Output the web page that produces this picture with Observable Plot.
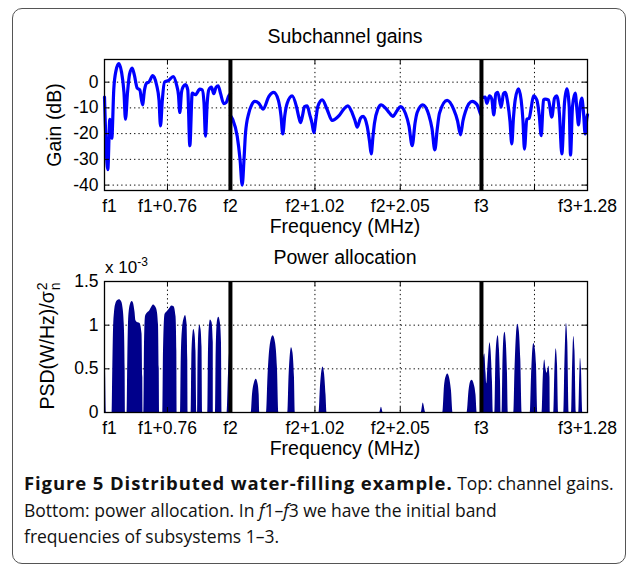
<!DOCTYPE html>
<html><head><meta charset="utf-8">
<script src="https://cdn.jsdelivr.net/npm/d3@7"></script>
<script src="https://cdn.jsdelivr.net/npm/@observablehq/plot@0.6"></script>
<style>
body{margin:0;background:#fff;}
#page{position:relative;width:636px;height:565px;overflow:hidden;font-family:"Liberation Sans",Arial,sans-serif;color:#000;background:#fff;}
.box{position:absolute;left:12px;top:8px;width:614px;height:556px;border:1.5px solid #555;border-radius:10px;box-sizing:border-box;}
.lbl{position:absolute;white-space:nowrap;transform:translate(-50%,-50%);font-size:19.5px;line-height:1;}
.rot{transform:translate(-50%,-50%) rotate(-90deg);}
.panel{position:absolute;left:0;}
.cap{position:absolute;left:24px;top:470px;font-family:"Open Sans",sans-serif;font-size:17.5px;line-height:26.5px;color:#111;white-space:nowrap;}
.cap b{font-size:18.5px;letter-spacing:0.9px;}
.stack{display:inline-flex;flex-direction:column;font-size:14px;line-height:13px;vertical-align:middle;margin-left:1px;}
</style></head>
<body><div id="page">
<div class="box"></div>
<div id="top" class="panel" style="top:49px"></div>
<div id="bottom" class="panel" style="top:271px"></div>
<div class="lbl" style="left:345px;top:37px">Subchannel gains</div>
<div class="lbl" style="left:345px;top:227px">Frequency (MHz)</div>
<div class="lbl rot" style="left:55px;top:125px">Gain (dB)</div>
<div class="lbl" style="left:345px;top:258px">Power allocation</div>
<div class="lbl" style="left:345px;top:449px">Frequency (MHz)</div>
<div class="lbl" style="left:105px;top:266px;transform:translateY(-50%);font-size:17px">x 10<sup style="font-size:12px">-3</sup></div>
<div class="lbl rot" style="left:49px;top:346px">PSD(W/Hz)/σ<span class="stack"><span>2</span><span>n</span></span></div>
<div class="cap"><b>Figure 5 Distributed water-filling example.</b> Top: channel gains.<br>Bottom: power allocation. In <i>f</i>1–<i>f</i>3 we have the initial band<br>frequencies of subsystems 1–3.</div>
</div>
<script>
// Frequency axis in MHz offset from f1
const xEnd = 5.83;
const tickPos = [0, 0.76, 1.52, 2.54, 3.57, 4.55, 5.19, 5.83];
const tickLabels = ["f1", "f1+0.76", "f2", "f2+1.02", "f2+2.05", "f3", "", "f3+1.28"];
const gridPos = [0.76, 2.54, 3.57, 5.19];
const bandEdges = [1.52, 4.55];
const gainTicks = [-40, -30, -20, -10, 0];
const powerTicks = [0, 0.5, 1, 1.5];

// Subchannel gains (dB): [MHz from f1, dB]
const gainBand1 = [[0,-5.8],[0.040,-34],[0.064,-14.5],[0.088,-21.8],[0.112,-2.8],[0.139,4.5],[0.173,7.2],[0.205,4],[0.235,-4],[0.253,-14.4],[0.278,-4],[0.302,3],[0.334,5.5],[0.362,2.5],[0.394,-2.3],[0.426,-3],[0.459,-8.8],[0.483,-3],[0.507,-0.4],[0.535,0],[0.583,2.5],[0.628,-1],[0.658,-7],[0.676,-17],[0.698,-7],[0.724,0],[0.776,0.7],[0.829,2.2],[0.869,-1],[0.893,-5],[0.909,-11.8],[0.929,-4],[0.950,-1.7],[0.978,-1],[1.005,-3],[1.030,-24.7],[1.059,-4.3],[1.098,-4.9],[1.150,-2.7],[1.179,-3],[1.201,-8],[1.219,-21],[1.240,-8],[1.259,-3],[1.291,-1.9],[1.319,-4.5],[1.346,-2],[1.372,-1.4],[1.400,-4.3],[1.440,-8.4],[1.469,-7.9],[1.500,-5.3],[1.521,-4.5]];
const gainBand2 = [[1.521,-13],[1.549,-14.6],[1.602,-21],[1.636,-30],[1.662,-40],[1.684,-30],[1.702,-19.8],[1.742,-12],[1.774,-9],[1.814,-7.5],[1.862,-8.2],[1.915,-10.5],[1.983,-5.6],[2.043,-4],[2.097,-6.9],[2.130,-13],[2.152,-20.1],[2.176,-13],[2.205,-8.2],[2.265,-5.3],[2.317,-9.5],[2.341,-13],[2.366,-15.7],[2.390,-13],[2.414,-9.5],[2.447,-9.2],[2.478,-12.7],[2.505,-16],[2.526,-19.6],[2.553,-14],[2.575,-9.5],[2.628,-6.9],[2.688,-10.7],[2.748,-14.9],[2.828,-13.1],[2.888,-10.5],[2.937,-9.2],[2.990,-12],[3.024,-15],[3.050,-17.5],[3.090,-14],[3.122,-13.3],[3.171,-17.2],[3.199,-23],[3.219,-27.9],[3.241,-21],[3.259,-15.9],[3.299,-10.5],[3.340,-8.8],[3.392,-10.1],[3.440,-12],[3.480,-13.3],[3.533,-11],[3.573,-9.5],[3.633,-12.2],[3.675,-17],[3.714,-24.7],[3.748,-16],[3.774,-11.8],[3.842,-8.8],[3.914,-12.7],[3.953,-18],[3.987,-26.3],[4.017,-18],[4.044,-12],[4.136,-7.1],[4.216,-10.7],[4.261,-15],[4.297,-20.5],[4.327,-15],[4.357,-11.4],[4.438,-7.5],[4.498,-8.8],[4.538,-12.3],[4.550,-13]];
const gainBand3 = [[4.550,-6],[4.595,-5.8],[4.615,-8.2],[4.647,-5.3],[4.675,-6.6],[4.699,-12.7],[4.723,-4.5],[4.747,-4],[4.788,-9.7],[4.816,-4.5],[4.836,-4],[4.868,-8.2],[4.894,-15],[4.916,-24],[4.936,-14],[4.957,-6.9],[4.997,-2.6],[5.029,-6.9],[5.051,-15],[5.069,-26],[5.097,-14.4],[5.126,-14],[5.150,-10.1],[5.178,-5.3],[5.218,-6.9],[5.248,-13],[5.271,-20.8],[5.299,-6.9],[5.319,-6.6],[5.359,-6.9],[5.399,-13.6],[5.432,-6.2],[5.459,-5.3],[5.492,-12.7],[5.520,-27.9],[5.552,-8.2],[5.580,-2.6],[5.609,-9.5],[5.625,-28.3],[5.649,-9.5],[5.681,-4.3],[5.706,-12],[5.721,-16.6],[5.745,-8.2],[5.761,-6.2],[5.781,-11.4],[5.802,-20.1],[5.822,-14],[5.830,-12.7]];

// Power allocation (x 1e-3 W/Hz / sigma_n^2): [MHz from f1, PSD]
const powerBand1 = [[0,0.69],[0.012,0.5],[0.024,0],[0.093,0],[0.100,0.5],[0.109,0.95],[0.121,1.15],[0.139,1.25],[0.157,1.28],[0.181,1.29],[0.205,1.27],[0.223,1.2],[0.239,1.0],[0.249,0.5],[0.253,0],[0.274,0],[0.281,0.6],[0.293,1.1],[0.314,1.24],[0.334,1.27],[0.350,1.25],[0.368,1.15],[0.380,1.05],[0.398,1.03],[0.428,1.02],[0.453,0.9],[0.462,0.4],[0.467,0],[0.474,0],[0.483,0.8],[0.495,1.1],[0.519,1.14],[0.543,1.16],[0.567,1.2],[0.591,1.23],[0.616,1.21],[0.634,1.17],[0.652,1.0],[0.661,0.5],[0.667,0],[0.704,0],[0.712,0.7],[0.730,1.12],[0.754,1.15],[0.779,1.18],[0.815,1.22],[0.839,1.21],[0.863,1.1],[0.873,0.7],[0.877,0],[0.917,0],[0.926,0.6],[0.941,0.95],[0.966,1.09],[0.978,1.11],[0.996,1.02],[1.005,0.6],[1.011,0],[1.046,0],[1.054,0.6],[1.068,0.9],[1.078,0.95],[1.092,0.9],[1.104,0.7],[1.116,0],[1.123,0],[1.129,0.6],[1.141,0.95],[1.150,1.0],[1.165,0.95],[1.177,0.75],[1.186,0],[1.247,0],[1.255,0.7],[1.267,1.0],[1.279,1.06],[1.298,1.03],[1.313,0.8],[1.319,0],[1.340,0],[1.348,0.7],[1.364,1.05],[1.380,1.09],[1.398,1.03],[1.412,0.8],[1.421,0],[1.481,0],[1.497,0.45],[1.515,0.72],[1.521,0.72]];
const powerBand2 = [[1.521,0],[1.771,0],[1.786,0.2],[1.810,0.34],[1.831,0.38],[1.853,0.33],[1.867,0.2],[1.874,0],[1.955,0],[1.973,0.4],[1.998,0.75],[2.036,0.88],[2.064,0.8],[2.088,0.5],[2.104,0],[2.212,0],[2.227,0.4],[2.245,0.68],[2.257,0.74],[2.275,0.68],[2.293,0.4],[2.305,0],[2.589,0],[2.607,0.3],[2.625,0.48],[2.637,0.52],[2.655,0.45],[2.674,0.2],[2.686,0],[3.323,0],[3.343,0.06],[3.364,0],[3.823,0],[3.847,0.11],[3.878,0],[4.083,0],[4.104,0.3],[4.128,0.42],[4.144,0.44],[4.164,0.4],[4.188,0.25],[4.209,0],[4.378,0],[4.400,0.25],[4.424,0.36],[4.438,0.37],[4.460,0.33],[4.484,0.2],[4.498,0],[4.550,0]];
const powerBand3 = [[4.556,0.45],[4.575,0.62],[4.590,0.67],[4.605,0.45],[4.614,0.33],[4.629,0.55],[4.653,0.8],[4.665,0.72],[4.683,0.35],[4.693,0],[4.711,0],[4.723,0.55],[4.737,0.82],[4.752,0.88],[4.767,0.72],[4.780,0.35],[4.788,0],[4.798,0],[4.810,0.6],[4.822,0.87],[4.834,0.92],[4.850,0.8],[4.864,0.45],[4.876,0],[4.940,0],[4.955,0.5],[4.973,0.9],[4.989,1.01],[5.007,0.93],[5.025,0.6],[5.042,0],[5.139,0],[5.154,0.4],[5.170,0.72],[5.182,0.79],[5.196,0.75],[5.214,0.55],[5.230,0],[5.283,0],[5.296,0.4],[5.314,0.6],[5.329,0.5],[5.341,0.45],[5.363,0.53],[5.377,0.4],[5.383,0],[5.423,0],[5.437,0.5],[5.452,0.73],[5.468,0.55],[5.483,0],[5.544,0],[5.558,0.6],[5.576,1.02],[5.592,0.8],[5.609,0],[5.637,0],[5.649,0.5],[5.664,0.87],[5.679,0.7],[5.697,0],[5.725,0],[5.736,0.4],[5.745,0.62],[5.757,0.5],[5.773,0],[5.830,0]];

const toRows = (arr, band) => arr.map(([f, v]) => ({f, v, band}));
const gainData = [...toRows(gainBand1, 1), ...toRows(gainBand2, 2), ...toRows(gainBand3, 3)];
const powerData = [...toRows(powerBand1, 1), ...toRows(powerBand2, 2), ...toRows(powerBand3, 3)];
const labelMap = new Map(tickPos.map((p, i) => [p, tickLabels[i]]));

const W = 636, ML = 104, MR = 49, MT = 10, MB = 40, IH = 131, IW = W - ML - MR;
const gridStyle = {stroke: "#000", strokeOpacity: 1, strokeDasharray: "1.3,3", strokeWidth: 1};

function panel(yDomain, yTicks, yFmt, dataMarks) {
  return Plot.plot({
    width: W, height: MT + IH + MB,
    marginLeft: ML, marginRight: MR, marginTop: MT, marginBottom: MB,
    style: {fontFamily: "'Liberation Sans', Arial, sans-serif", fontSize: "17.5px", color: "#000", background: "transparent", overflow: "visible"},
    x: {domain: [0, xEnd]},
    y: {domain: yDomain},
    marks: [
      Plot.gridX(gridPos, gridStyle),
      Plot.gridY(yTicks, gridStyle),
      ...dataMarks,
      Plot.ruleX(bandEdges, {stroke: "#000", strokeWidth: 4}),
      Plot.frame({stroke: "#000", strokeWidth: 1.3}),
      Plot.ruleY(yTicks, {stroke: "#000", insetRight: IW - 5}),
      Plot.ruleY(yTicks, {stroke: "#000", insetLeft: IW - 5}),
      Plot.ruleX(tickPos, {stroke: "#000", insetTop: IH - 5}),
      Plot.ruleX(tickPos, {stroke: "#000", insetBottom: IH - 5}),
      Plot.axisX([0], {tickSize: 0, tickPadding: 9, dx: 5, tickFormat: d => labelMap.get(d), label: null}),
      Plot.axisX(tickPos.filter(p => p > 0 && labelMap.get(p)), {tickSize: 0, tickPadding: 9, tickFormat: d => labelMap.get(d), label: null}),
      Plot.axisY(yTicks, {tickSize: 0, tickPadding: 6, tickFormat: yFmt, label: null})
    ]
  });
}

document.getElementById("top").append(panel([-42.1, 8.8], gainTicks, d => String(d), [
  Plot.line(gainData, {x: "f", y: "v", z: "band", stroke: "#0000ff", strokeWidth: 3.2, curve: "monotone-x"})
]));
document.getElementById("bottom").append(panel([0, 1.5], powerTicks, d => String(d), [
  Plot.areaY(powerData, {x: "f", y: "v", z: "band", fill: "#00008b", curve: "monotone-x"})
]));
</script>
</body></html>
